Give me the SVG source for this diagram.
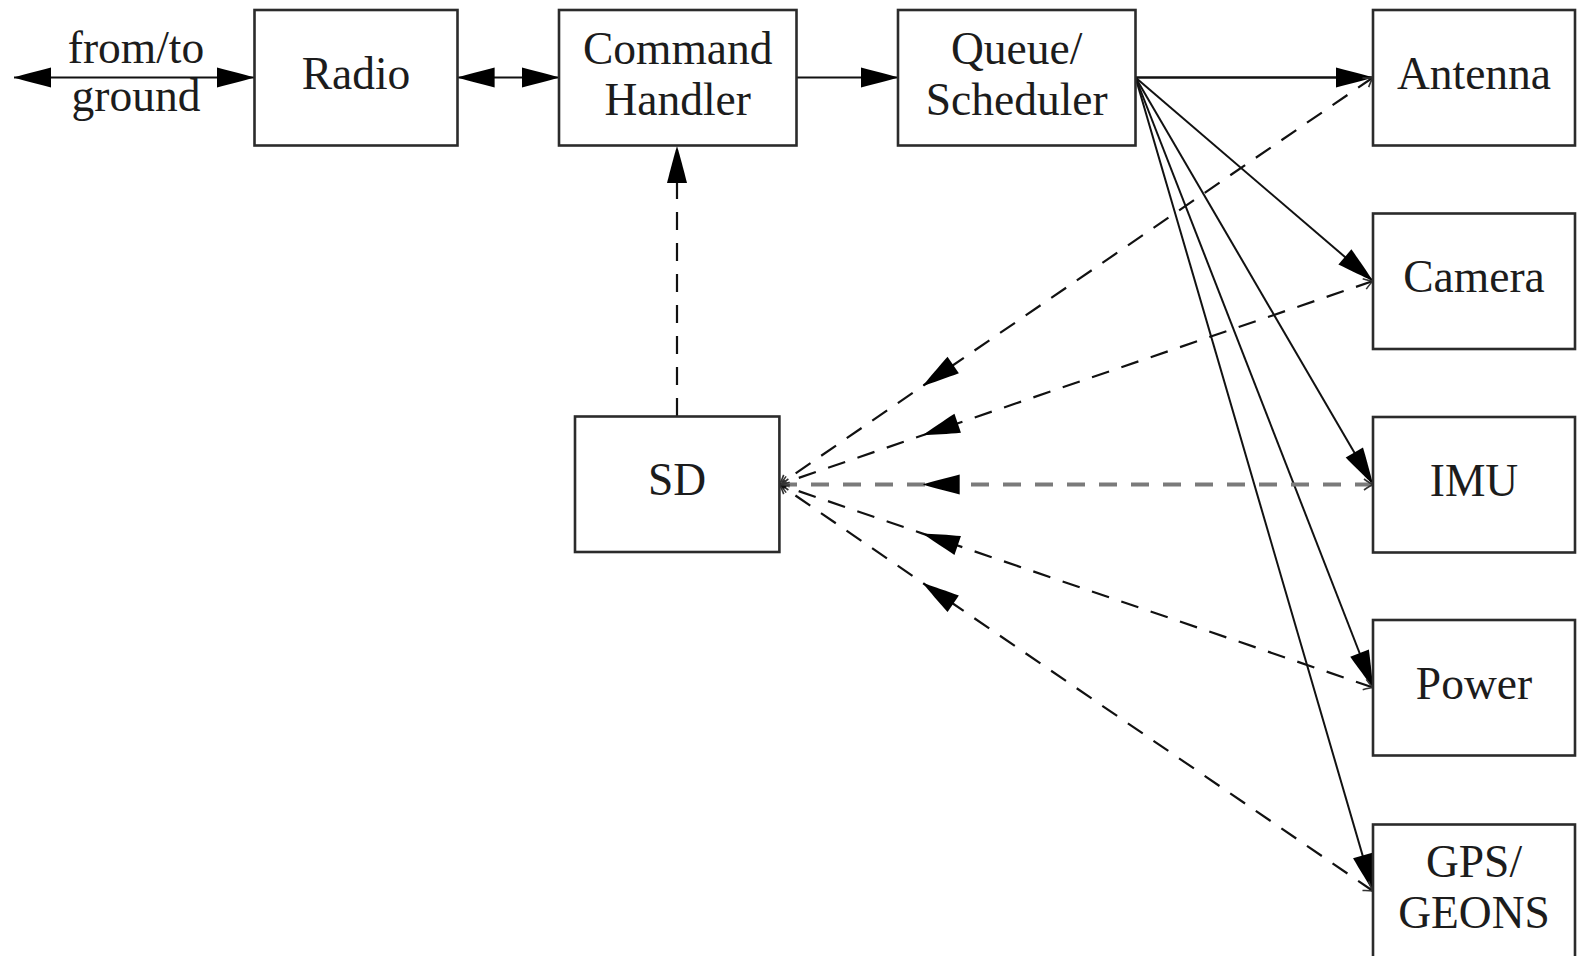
<svg xmlns="http://www.w3.org/2000/svg" width="1577" height="956" viewBox="0 0 1577 956">
<style>
.box{fill:#fff;stroke:#2b2b2b;stroke-width:2.6}
.lbl{font-family:"Liberation Serif","Times New Roman",serif;font-size:45.5px;fill:#1c1c1c;text-anchor:middle}
.solid{fill:none;stroke:#111;stroke-width:2}
.dash{fill:none;stroke:#111;stroke-width:2.2;stroke-dasharray:18 13}
.dashg{fill:none;stroke:#7a7a7a;stroke-width:3.8;stroke-dasharray:18 14}
</style>
<defs>
<marker id="lt" markerUnits="userSpaceOnUse" markerWidth="40" markerHeight="24" viewBox="-38 -12 40 24" refX="0" refY="0" orient="auto-start-reverse" overflow="visible">
<path d="M0,0 C-10,-3 -25,-7 -37,-10 L-37,10 C-25,7 -10,3 0,0 Z" fill="#000"/>
</marker>
<marker id="sm" markerUnits="userSpaceOnUse" markerWidth="14" markerHeight="14" viewBox="-11 -7 13 14" refX="0" refY="0" orient="auto-start-reverse" overflow="visible">
<path d="M-9,-5.5 Q-3,-1.2 0,0 Q-3,1.2 -9,5.5" fill="none" stroke="#333" stroke-width="1.6"/>
</marker>
</defs>

<g id="connectors">
<path class="solid" d="M14,77.5 L254,77.5" marker-start="url(#lt)" marker-end="url(#lt)"/>
<path class="solid" d="M457.6,77.5 L559,77.5" marker-start="url(#lt)" marker-end="url(#lt)"/>
<path class="solid" d="M796.5,77.5 L898,77.5" marker-end="url(#lt)"/>
<path class="solid" style="stroke-width:2.6" d="M1135.5,77.5 L1373,77.5" marker-end="url(#lt)"/>
<path class="solid" d="M1135.5,77.5 L1373,281" marker-end="url(#lt)"/>
<path class="solid" d="M1135.5,77.5 L1373,484.5" marker-end="url(#lt)"/>
<path class="solid" d="M1135.5,77.5 L1373,687.5" marker-end="url(#lt)"/>
<path class="solid" d="M1135.5,77.5 L1373,891" marker-end="url(#lt)"/>
<path class="dash" d="M677,416 L677,146" marker-end="url(#lt)"/>
<path class="dash" d="M1373,77.5 L922.7,386 L779.4,484.5" marker-start="url(#sm)" marker-mid="url(#lt)" marker-end="url(#sm)"/>
<path class="dash" d="M1373,281 L922.7,435.3 L779.4,484.5" marker-start="url(#sm)" marker-mid="url(#lt)" marker-end="url(#sm)"/>
<path class="dashg" d="M1373,484.5 L922.7,484.5 L779.4,484.5" marker-start="url(#sm)" marker-mid="url(#lt)" marker-end="url(#sm)"/>
<path class="dash" d="M1373,687.5 L922.7,533.6 L779.4,484.5" marker-start="url(#sm)" marker-mid="url(#lt)" marker-end="url(#sm)"/>
<path class="dash" d="M1373,891 L922.7,582.9 L779.4,484.5" marker-start="url(#sm)" marker-mid="url(#lt)" marker-end="url(#sm)"/>
</g>

<g id="ground-label">
<text class="lbl" x="136" y="62.5">from/to</text>
<text class="lbl" x="136" y="111">ground</text>
</g>
<g id="radio">
<rect class="box" x="254.5" y="10" width="203" height="135.5"/>
<text class="lbl" x="356" y="88.5">Radio</text>
</g>
<g id="command-handler">
<rect class="box" x="559" y="10" width="237.5" height="135.5"/>
<text class="lbl" x="677.7" y="64">Command</text>
<text class="lbl" x="677.7" y="115">Handler</text>
</g>
<g id="queue-scheduler">
<rect class="box" x="898" y="10" width="237.5" height="135.5"/>
<text class="lbl" x="1016.7" y="64">Queue/</text>
<text class="lbl" x="1016.7" y="115">Scheduler</text>
</g>
<g id="antenna">
<rect class="box" x="1373" y="10" width="202" height="135.5"/>
<text class="lbl" x="1474" y="88.5">Antenna</text>
</g>
<g id="camera">
<rect class="box" x="1373" y="213.5" width="202" height="135.5"/>
<text class="lbl" x="1474" y="292">Camera</text>
</g>
<g id="imu">
<rect class="box" x="1373" y="417" width="202" height="135.5"/>
<text class="lbl" x="1474" y="495.5">IMU</text>
</g>
<g id="power">
<rect class="box" x="1373" y="620" width="202" height="135.5"/>
<text class="lbl" x="1474" y="698.5">Power</text>
</g>
<g id="gps-geons">
<rect class="box" x="1373" y="824.5" width="202" height="135.5"/>
<text class="lbl" x="1474" y="877">GPS/</text>
<text class="lbl" x="1474" y="928">GEONS</text>
</g>
<g id="sd">
<rect class="box" x="575" y="416.5" width="204.4" height="135.5"/>
<text class="lbl" x="677" y="495">SD</text>
</g>
</svg>
